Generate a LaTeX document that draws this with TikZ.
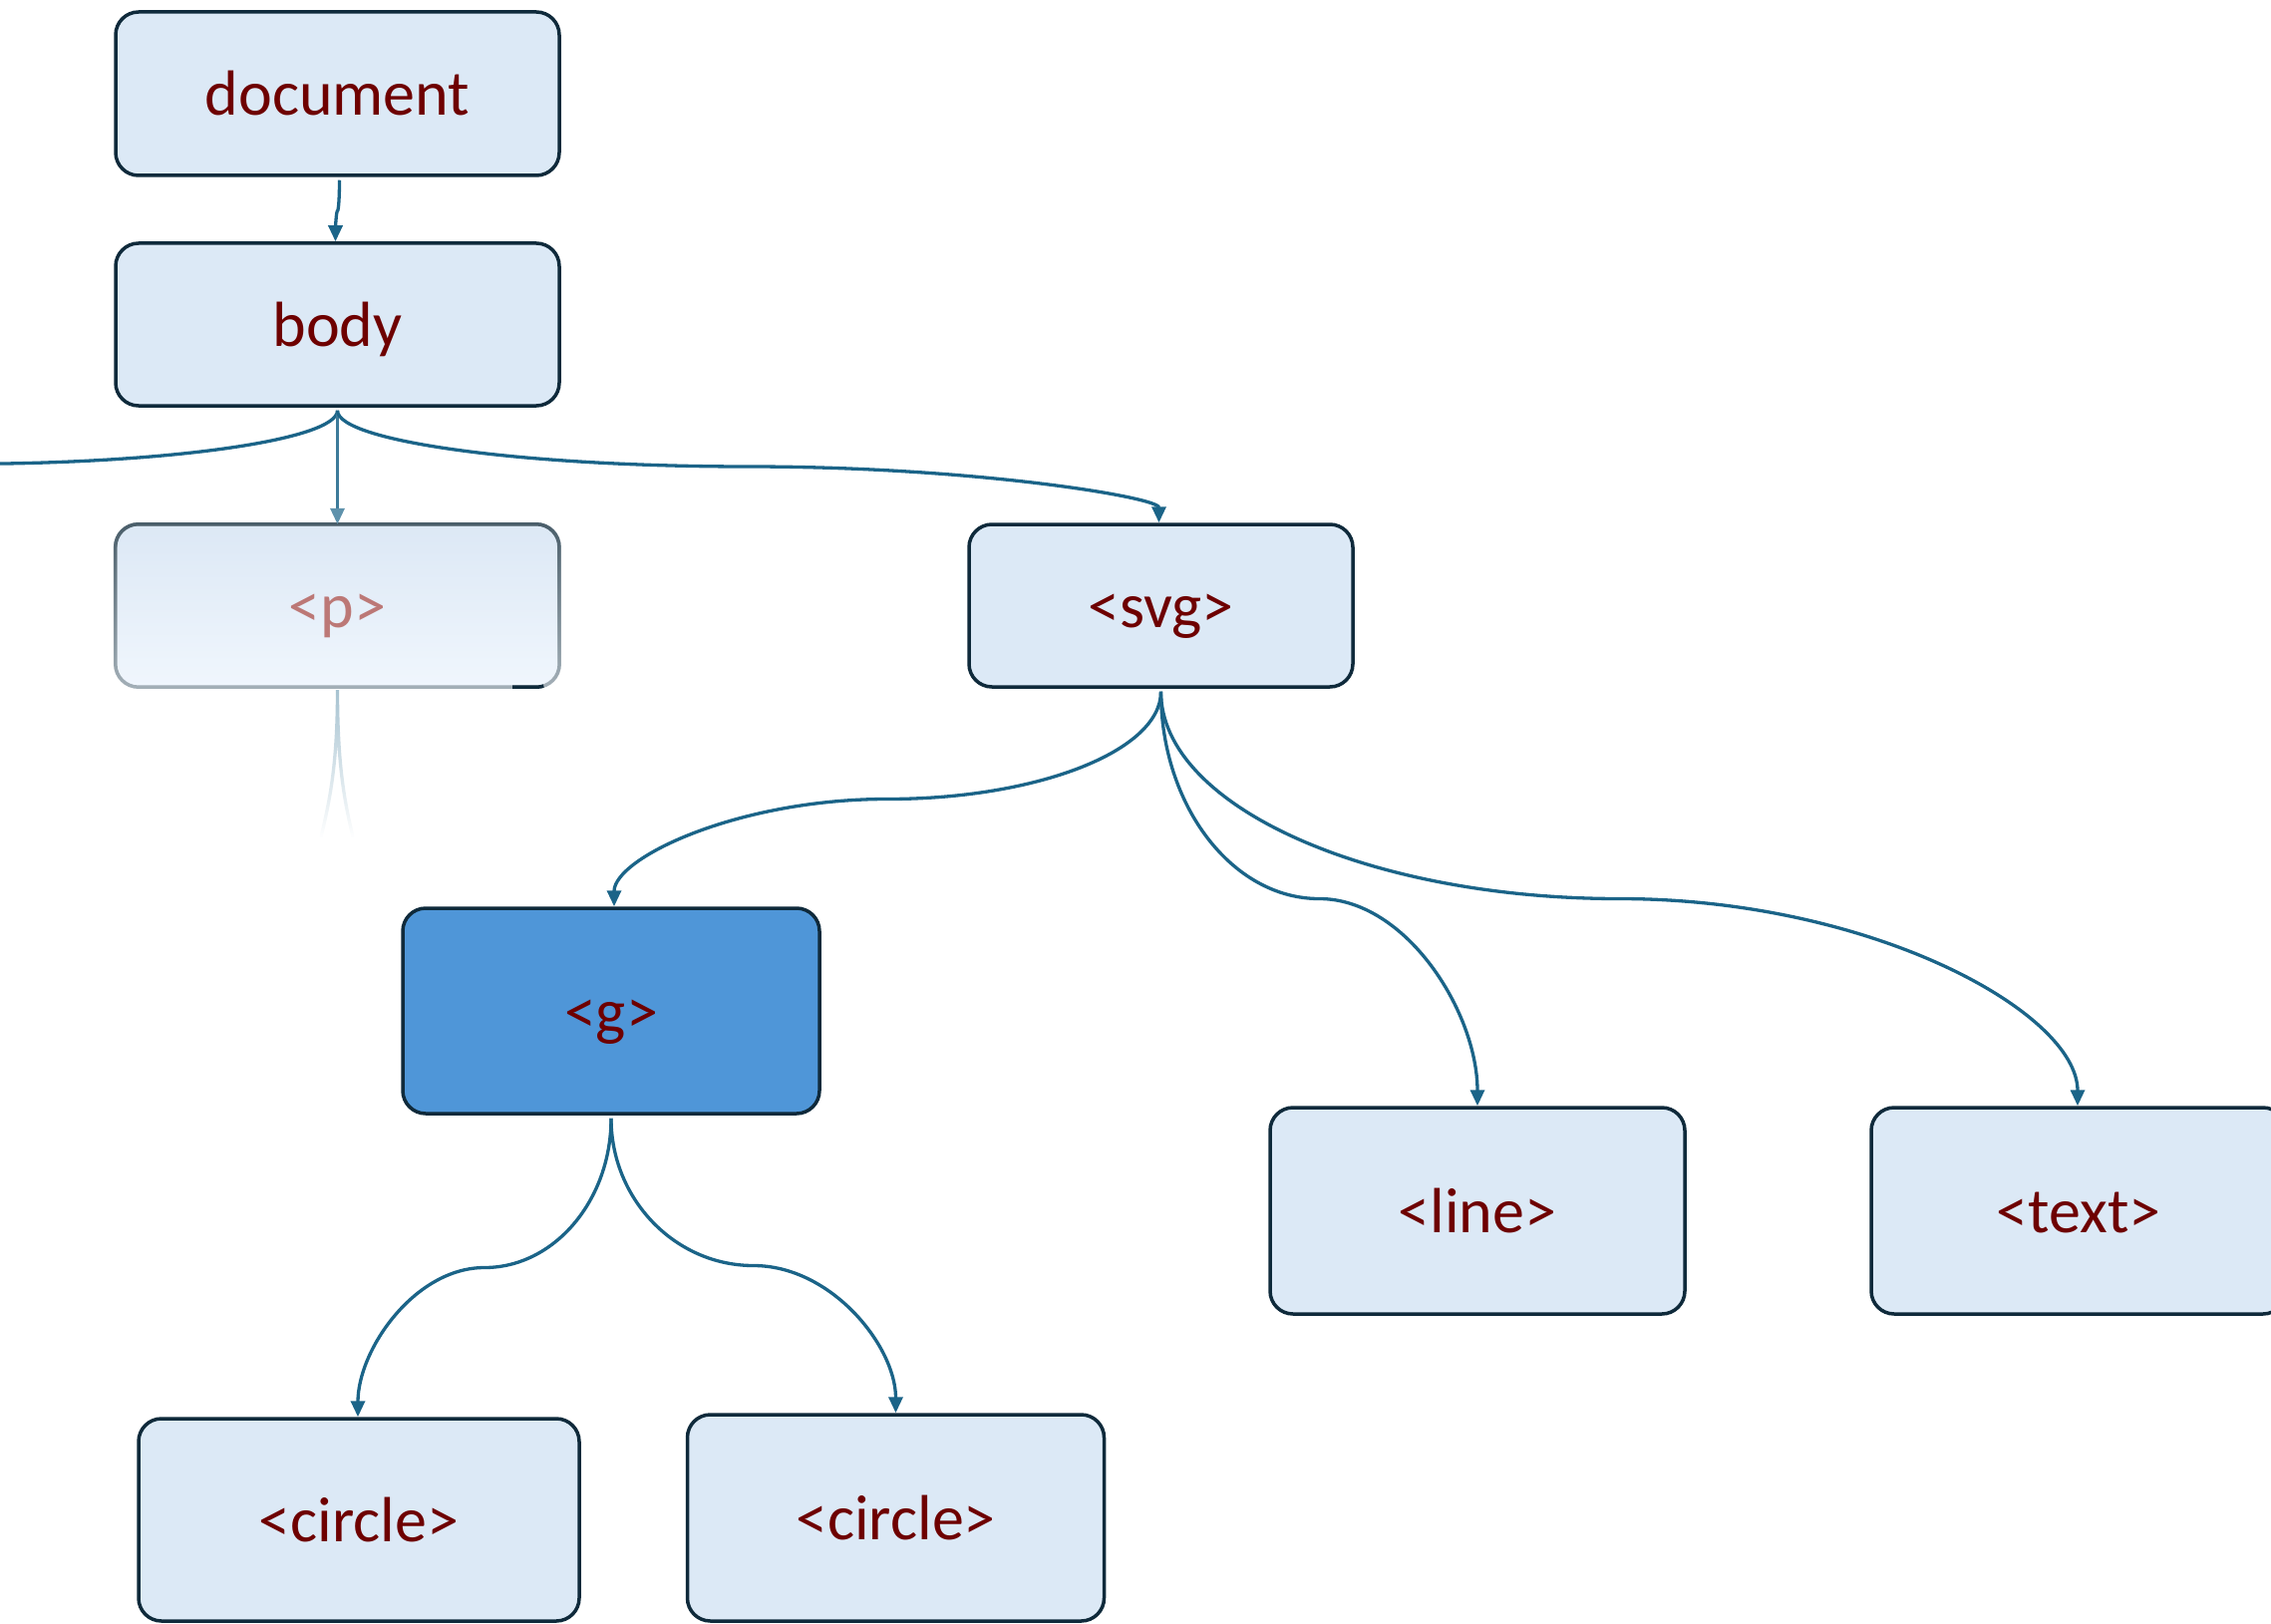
\documentclass[tikz,border=0pt]{standalone}
\usepackage{fontspec}
\setmainfont{Carlito}
\usetikzlibrary{arrows.meta,calc,fadings}

\definecolor{boxfill}{HTML}{DCE9F6}
\definecolor{boxline}{HTML}{0F2A3B}
\definecolor{labelred}{HTML}{6E0000}
\definecolor{gfill}{HTML}{4F96D8}
\definecolor{edgeblue}{HTML}{1B6488}
\definecolor{fadetop}{HTML}{DCE8F5}
\definecolor{fadebot}{HTML}{F0F6FD}
\definecolor{fadelinetop}{HTML}{4A5E6A}
\definecolor{fadelinebot}{HTML}{A4B0B8}
\definecolor{fadelabel}{HTML}{BC7876}
\definecolor{ghostedge}{HTML}{A6C2D0}

\tikzfading[name=fadedown, top color=transparent!0, bottom color=transparent!100]

\begin{document}
\begin{tikzpicture}[x=1pt,y=-1pt,
  labeltext/.style={inner sep=0pt, text height=44pt, text depth=0pt,
    font=\fontsize{64}{72}\selectfont},
  elem/.style={labeltext, draw=boxline, line width=3.5pt, fill=boxfill,
    rounded corners=23pt, text=labelred},
  treelink/.style={to path={
    let \p1=(\tikztostart), \p2=(\tikztotarget), \p3=($(\p1)!0.5!(\p2)$) in
    .. controls (\x1,{\y1+0.55*(\y3-\y1)}) and ({\x3-0.55*(\x3-\x1)},\y3) .. (\p3)
    .. controls ({\x3+0.55*(\x2-\x3)},\y3) and (\x2,{\y3+0.55*(\y2-\y3)}) .. (\tikztotarget)}},
  linkline/.style={draw=edgeblue, line width=3.3pt, -{Triangle[length=16pt,width=14pt]}}]

\useasboundingbox (0,0) rectangle (2278,1629);

% element boxes
\node[elem, minimum width=445pt, minimum height=164pt] (doc) at (338.5,94) {document};
\node[elem, minimum width=445pt, minimum height=163pt] (body) at (338.5,325.5) {body};
\node[labeltext, minimum width=445pt, minimum height=163pt, rounded corners=23pt,
  top color=fadetop, bottom color=fadebot, text=fadelabel] (p) at (338.5,607.5) {<p>};
\draw[fadelinebot, line width=3.5pt, rounded corners=23pt] (p.south west) rectangle (p.north east);
\draw[fadelinetop, line width=3.5pt, rounded corners=23pt, path fading=fadedown] (p.south west) rectangle (p.north east);
\draw[boxline, line width=3.5pt] ([xshift=-47pt]p.south east) -- ([xshift=-23pt]p.south east) arc(-90:-72:23pt);
\node[elem, minimum width=385pt, minimum height=163pt] (svg) at (1164.5,607.5) {<svg>};
\node[elem, fill=gfill, minimum width=418pt, minimum height=206pt] (g) at (613,1014) {<g>};
\node[elem, minimum width=416pt, minimum height=207pt] (lineel) at (1482,1214.5) {<line>};
\node[elem, minimum width=416pt, minimum height=207pt] (txt) at (2085,1214.5) {<text>};
\node[elem, minimum width=442pt, minimum height=203pt] (c1) at (360,1524.5) {<circle>};
\node[elem, minimum width=418pt, minimum height=207pt] (c2) at (898.5,1522.5) {<circle>};

% free ends of links leaving the visible area
\coordinate (offleft) at (-417,519);
\coordinate (ghostl) at (322,840);
\coordinate (ghostr) at (354,840);

% links
\draw[linkline] ([xshift=2pt,yshift=-3pt]doc.south) to[treelink] ([xshift=-2pt]body.north);
\draw[linkline] ([yshift=-3pt]body.south) to[treelink] (offleft);
\draw[draw=edgeblue!85!white, line width=3.3pt, -{Triangle[length=16pt,width=14pt,color=edgeblue!70!white]}]
  ([yshift=-3pt]body.south) -- (p.north);
\draw[linkline] ([yshift=-3pt]body.south) to[treelink] ([xshift=-2pt]svg.north);
\draw[linkline] ([yshift=-3pt]svg.south) to[treelink] ([xshift=3pt]g.north);
\draw[linkline] ([yshift=-3pt]svg.south) to[treelink] (lineel.north);
\draw[linkline] ([yshift=-3pt]svg.south) to[treelink] ([xshift=-1pt]txt.north);
\draw[linkline] ([yshift=-3pt]g.south) to[treelink] ([xshift=-1pt]c1.north);
\draw[linkline] ([yshift=-3pt]g.south) to[treelink] (c2.north);

% faint links below <p>
\draw[ghostedge, line width=3.3pt, path fading=fadedown]
  ([yshift=-3pt]p.south) .. controls (338.5,770) and (330,805) .. (ghostl)
  ([yshift=-3pt]p.south) .. controls (338.5,770) and (346,805) .. (ghostr);
\end{tikzpicture}
\end{document}
